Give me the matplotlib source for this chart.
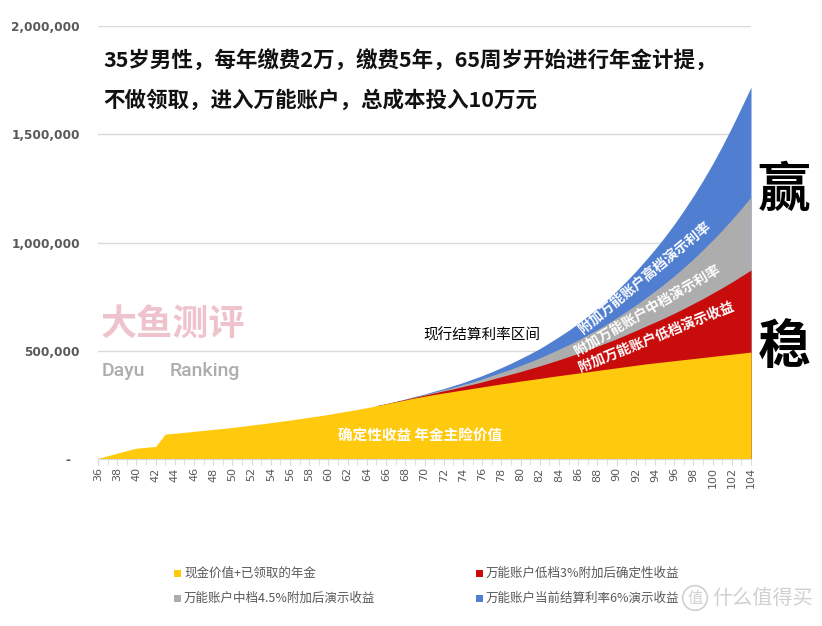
import matplotlib
matplotlib.use('Agg')
import matplotlib.pyplot as plt
import numpy as np
from matplotlib.ticker import FuncFormatter, MultipleLocator
from matplotlib.patches import Rectangle

plt.rcParams['font.family'] = ['Noto Sans CJK SC', 'DejaVu Sans']

# ---------------- data (values in thousand yuan) ----------------
ages = list(range(36, 105))

cash_annuity_k = [3, 15, 27, 39, 50, 54, 58, 115, 119, 123, 128, 132, 137, 141, 146,
                  151, 157, 162, 168, 174, 180, 186, 193, 199, 206, 214, 221, 229, 237,
                  246, 255, 264, 273, 282, 290, 298, 305, 312, 319, 326, 333, 340, 347,
                  353, 360, 366, 372, 379, 385, 391, 397, 403, 409, 415, 421, 427, 433,
                  439, 444, 449, 454, 459, 464, 469, 474, 479, 484, 489, 494]

# universal-account totals from age 65 on (before 65 they equal the cash value)
low3_tail_k = [246, 255, 265, 275, 285, 295, 305, 315, 324, 335, 345, 356, 368, 380,
               392, 404, 417, 430, 444, 458, 473, 488, 504, 521, 538, 555, 574, 593,
               613, 632, 652, 673, 695, 718, 741, 766, 791, 817, 845, 873]
mid45_tail_k = [246, 255, 265, 276, 287, 298, 309, 320, 331, 344, 356, 370, 385, 400,
                415, 432, 449, 467, 487, 507, 528, 550, 574, 598, 624, 652, 681, 711,
                743, 776, 810, 846, 884, 924, 967, 1011, 1057, 1106, 1157, 1211]
high6_tail_k = [246, 256, 266, 277, 289, 300, 313, 325, 339, 353, 369, 385, 403, 422,
                442, 464, 486, 510, 537, 565, 594, 626, 660, 696, 735, 776, 820, 867,
                917, 969, 1025, 1084, 1148, 1215, 1287, 1363, 1445, 1532, 1624, 1718]
tail_start_age = 65

legend_labels = ['现金价值+已领取的年金', '万能账户低档3%附加后确定性收益',
                 '万能账户中档4.5%附加后演示收益', '万能账户当前结算利率6%演示收益']

y_ticks = [0, 500000, 1000000, 1500000, 2000000]

# ---------------- build series ----------------
x = np.array(ages)
yellow = np.array(cash_annuity_k) * 1000.0
n_pre = tail_start_age - ages[0]
red = np.concatenate([yellow[:n_pre], np.array(low3_tail_k) * 1000.0])
gray = np.concatenate([yellow[:n_pre], np.array(mid45_tail_k) * 1000.0])
blue = np.concatenate([yellow[:n_pre], np.array(high6_tail_k) * 1000.0])

C_Y, C_R, C_G, C_B = '#FFC90E', '#C80B0B', '#ADADAD', '#507ED0'
TXT = '#595959'

W, H = 822, 626
fig = plt.figure(figsize=(W / 100, H / 100), dpi=100)


def fx(px):
    return px / W


def fy(py):
    return 1 - py / H


ax = fig.add_axes([fx(98), fy(459), (751 - 98) / W, (459 - 26) / H])

mask = x >= tail_start_age
ax.fill_between(x, 0, blue, where=mask, color=C_B, lw=0, zorder=2)
ax.fill_between(x, 0, gray, where=mask, color=C_G, lw=0, zorder=3)
ax.fill_between(x, 0, red, where=mask, color=C_R, lw=0, zorder=4)
ax.fill_between(x, 0, yellow, color=C_Y, lw=0, zorder=5)

ax.set_xlim(ages[0], ages[-1])
ax.set_ylim(y_ticks[0], y_ticks[-1])
ax.set_yticks(y_ticks)
ax.yaxis.set_major_formatter(FuncFormatter(lambda v, p: '-  ' if v == 0 else f'{int(v):,}'))
ax.grid(axis='y', color='#D9D9D9', lw=1.0, zorder=0)
ax.set_axisbelow(True)
for s in ['top', 'right', 'left']:
    ax.spines[s].set_visible(False)
ax.spines['bottom'].set_color('#D9D9D9')
ax.spines['bottom'].set_zorder(6)
ax.tick_params(axis='y', length=0, pad=13, labelsize=8.7, labelcolor=TXT)
for lab in ax.get_yticklabels():
    lab.set_fontfamily('DejaVu Sans')
    lab.set_fontweight('bold')

ax.set_xticks(ages[::2])
ax.set_xticks(ages, minor=True)
ax.set_xticklabels([str(a) for a in ages[::2]], rotation=90, fontsize=8,
                   color=TXT, fontfamily='DejaVu Sans')
ax.tick_params(axis='x', which='both', length=4, color='#D9D9D9', pad=2)

# ---------------- texts ----------------
fig.text(fx(103), fy(60), '35岁男性，每年缴费2万，缴费5年，65周岁开始进行年金计提，',
         fontsize=15.5, fontweight='bold', ha='left', va='center', color='#111111')
fig.text(fx(103), fy(100), '不做领取，进入万能账户，总成本投入10万元',
         fontsize=15.5, fontweight='bold', ha='left', va='center', color='#111111')

fig.text(fx(482), fy(335), '现行结算利率区间', fontsize=10.5, ha='center', va='center',
         color='black')
fig.text(fx(420), fy(435), '确定性收益 年金主险价值', fontsize=10.5, fontweight='bold',
         ha='center', va='center', color='white', zorder=10)

fig.text(fx(645), fy(278), '附加万能账户高档演示利率', fontsize=10, fontweight='bold',
         color='white', rotation=39.7, rotation_mode='anchor', ha='center', va='center')
fig.text(fx(647), fy(310), '附加万能账户中档演示利率', fontsize=10, fontweight='bold',
         color='white', rotation=30.3, rotation_mode='anchor', ha='center', va='center')
fig.text(fx(656), fy(337), '附加万能账户低档演示收益', fontsize=10, fontweight='bold',
         color='white', rotation=22, rotation_mode='anchor', ha='center', va='center')

fig.text(fx(784), fy(190), '赢', fontsize=38, fontweight='bold', ha='center', va='center',
         color='black')
fig.text(fx(784), fy(348), '稳', fontsize=38, fontweight='bold', ha='center', va='center',
         color='black')

# watermark
fig.text(fx(173), fy(324), '大鱼测评', fontsize=26, fontweight='bold', ha='center',
         va='center', color='#EFC3CB')
fig.text(fx(102), fy(371), 'Dayu', fontsize=14, fontweight='medium', ha='left',
         va='center', color='#ADADAD', fontfamily='Roboto')
fig.text(fx(170), fy(371), 'Ranking', fontsize=14, fontweight='medium', ha='left',
         va='center', color='#ADADAD', fontfamily='Roboto')

# ---------------- legend ----------------
leg_pos = [(174, 573), (476, 573), (174, 598), (476, 598)]
leg_cols = [C_Y, C_R, C_G, C_B]
for (lx, ly), col, lab in zip(leg_pos, leg_cols, legend_labels):
    fig.add_artist(Rectangle((fx(lx), fy(ly + 3.5)), 7 / W, 7 / H, transform=fig.transFigure,
                             facecolor=col, edgecolor='none'))
    fig.text(fx(lx + 10), fy(ly), lab, fontsize=9, ha='left', va='center', color=TXT)

# site watermark
fig.text(fx(695), fy(598), '值', fontsize=11, ha='center', va='center', color='#D0D0D0',
         bbox=dict(boxstyle='circle,pad=0.25', fc='none', ec='#D0D0D0', lw=1.2))
fig.text(fx(712), fy(598), '什么值得买', fontsize=14.5, ha='left', va='center',
         color='#D0D0D0')

fig.savefig('out.png', dpi=100)
